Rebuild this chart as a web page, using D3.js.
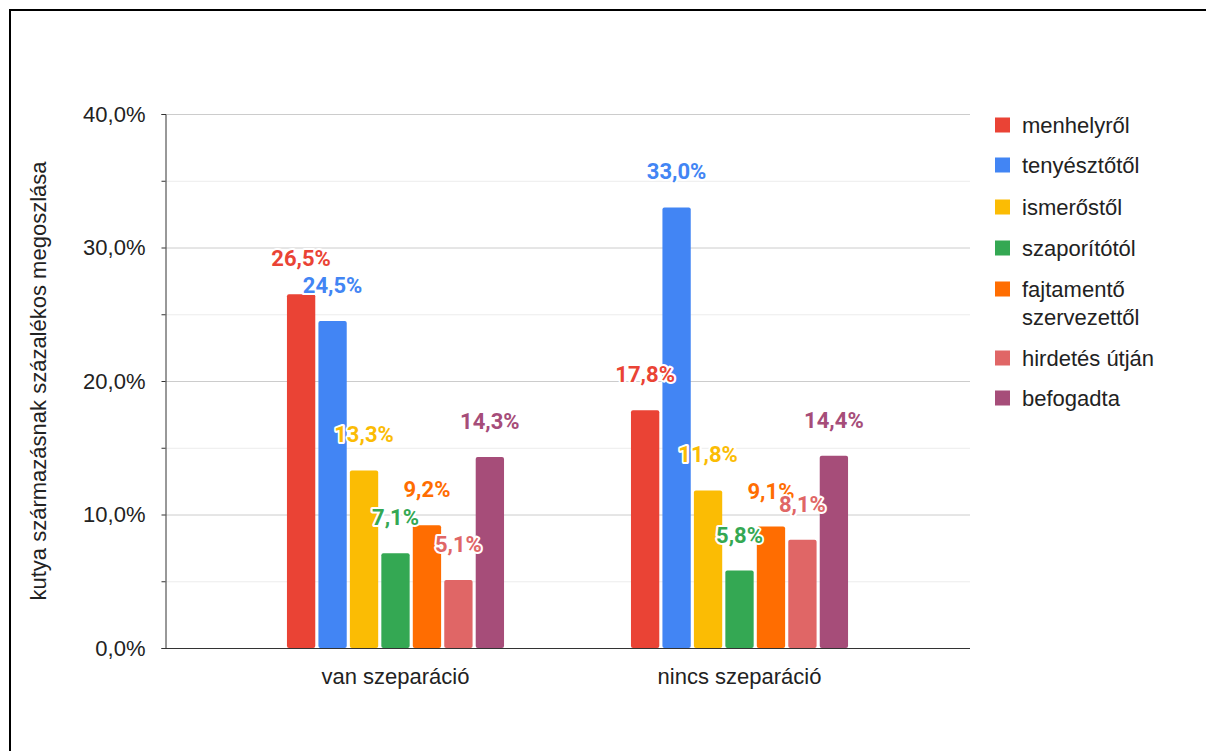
<!DOCTYPE html>
<html>
<head>
<meta charset="utf-8">
<script src="https://cdn.jsdelivr.net/npm/d3@7/dist/d3.min.js"></script>
<style>
  html, body { margin: 0; padding: 0; background: #fff; }
  svg { display: block; }
</style>
</head>
<body>
<script>
const categories = ["van szeparáció", "nincs szeparáció"];
const seriesNames = ["menhelyről", "tenyésztőtől", "ismerőstől", "szaporítótól", "fajtamentő szervezettől", "hirdetés útján", "befogadta"];
const seriesColors = ["#ea4335", "#4285f4", "#fbbc04", "#34a853", "#ff6d01", "#e06666", "#a64d79"];
const vanValues = [26.5, 24.5, 13.3, 7.1, 9.2, 5.1, 14.3];
const nincsValues = [17.8, 33.0, 11.8, 5.8, 9.1, 8.1, 14.4];
const majorTicks = [0, 10, 20, 30, 40];
const minorTicks = [5, 15, 25, 35];
const yTitle = "kutya származásnak százalékos megoszlása";

const W = 1206, H = 751;
const plot = { left: 165, right: 970, top: 114, bottom: 648 };
const fmt = v => v.toFixed(1).replace(".", ",") + "%";

const svg = d3.select("body").append("svg").attr("width", W).attr("height", H);
svg.append("rect").attr("width", W).attr("height", H).attr("fill", "#fff");

// frame
svg.append("path").attr("d", `M10,${H} L10,10 L${W},10`).attr("fill", "none").attr("stroke", "#000").attr("stroke-width", 2);

const y = d3.scaleLinear().domain([0, 40]).range([plot.bottom, plot.top]);
const x0 = d3.scaleBand().domain(categories).range([plot.left, plot.right]).paddingInner(0.369).paddingOuter(0.3545);
const x1 = d3.scaleBand().domain(seriesNames).range([0, x0.bandwidth()]).paddingInner(0.1).paddingOuter(0);

// gridlines
svg.append("g").selectAll("line").data(minorTicks).join("line")
  .attr("x1", plot.left).attr("x2", plot.right)
  .attr("y1", d => y(d) + 0.5).attr("y2", d => y(d) + 0.5)
  .attr("stroke", "#ececec").attr("stroke-width", 1);
svg.append("g").selectAll("line").data(majorTicks.filter(d => d > 0)).join("line")
  .attr("x1", plot.left).attr("x2", plot.right)
  .attr("y1", d => y(d) + 0.5).attr("y2", d => y(d) + 0.5)
  .attr("stroke", "#cccccc").attr("stroke-width", 1);

// y axis
const yAxis = d3.axisLeft(y).tickValues(majorTicks.concat(minorTicks)).tickSize(4).tickFormat(d => majorTicks.includes(d) ? fmt(d) : "");
const gy = svg.append("g").attr("transform", `translate(${plot.left + 0.5},0)`).call(yAxis);
gy.select(".domain").attr("stroke", "#333");
gy.selectAll(".tick line").attr("stroke", "#333");
gy.selectAll(".tick text").attr("x", -20).attr("fill", "#222")
  .style("font-family", "'Liberation Sans', Arial, sans-serif").style("font-size", "22px");

// bars
const data = [vanValues, nincsValues];
const groups = svg.append("g").selectAll("g").data(categories).join("g")
  .attr("transform", d => `translate(${x0(d)},0)`);
groups.selectAll("rect").data((c, i) => seriesNames.map((s, j) => ({ s, j, v: data[i][j] }))).join("rect")
  .attr("x", d => x1(d.s)).attr("width", x1.bandwidth())
  .attr("y", d => y(d.v)).attr("height", d => y(0) - y(d.v))
  .attr("rx", 2).attr("fill", d => seriesColors[d.j]);

// x axis line
svg.append("line").attr("x1", plot.left).attr("x2", plot.right)
  .attr("y1", plot.bottom + 0.5).attr("y2", plot.bottom + 0.5).attr("stroke", "#333").attr("stroke-width", 1);

// category labels
const xAxis = d3.axisBottom(x0).tickSize(0).tickPadding(0);
const gx = svg.append("g").attr("transform", `translate(0,${plot.bottom})`).call(xAxis);
gx.select(".domain").remove();
gx.selectAll(".tick text").attr("y", 36).attr("dy", 0).attr("fill", "#222")
  .style("font-family", "'Liberation Sans', Arial, sans-serif").style("font-size", "22px");

// data labels
groups.selectAll("text.lbl").data((c, i) => seriesNames.map((s, j) => ({ s, j, v: data[i][j] }))).join("text")
  .attr("class", "lbl")
  .attr("x", d => x1(d.s) + x1.bandwidth() / 2)
  .attr("y", d => y(d.v) - 28)
  .attr("text-anchor", "middle")
  .attr("fill", d => seriesColors[d.j])
  .attr("stroke", "#fff").attr("stroke-width", 4).attr("stroke-linejoin", "round")
  .attr("paint-order", "stroke")
  .style("font-family", "Roboto, sans-serif").style("font-weight", "700").style("font-size", "22px")
  .text(d => fmt(d.v));

// y title
svg.append("text")
  .attr("transform", `translate(46,${(plot.top + plot.bottom) / 2}) rotate(-90)`)
  .attr("text-anchor", "middle").attr("fill", "#222")
  .style("font-family", "'Liberation Sans', Arial, sans-serif").style("font-size", "22px")
  .text(yTitle);

// legend
const legendY = [125, 165, 207, 248, 289, 358, 398];
const lg = svg.append("g").selectAll("g").data(seriesNames).join("g")
  .attr("transform", (d, i) => `translate(995,${legendY[i]})`);
lg.append("rect").attr("x", 0).attr("y", -7.5).attr("width", 15).attr("height", 15)
  .attr("fill", (d, i) => seriesColors[i]);
lg.append("text").attr("x", 27).attr("y", 0).attr("fill", "#222")
  .style("font-family", "'Liberation Sans', Arial, sans-serif").style("font-size", "22px")
  .each(function (d) {
    const parts = d === "fajtamentő szervezettől" ? ["fajtamentő", "szervezettől"] : [d];
    const t = d3.select(this);
    parts.forEach((p, k) => t.append("tspan").attr("x", 27).attr("dy", k === 0 ? "0.36em" : "28px").text(p));
  });
</script>
</body>
</html>
